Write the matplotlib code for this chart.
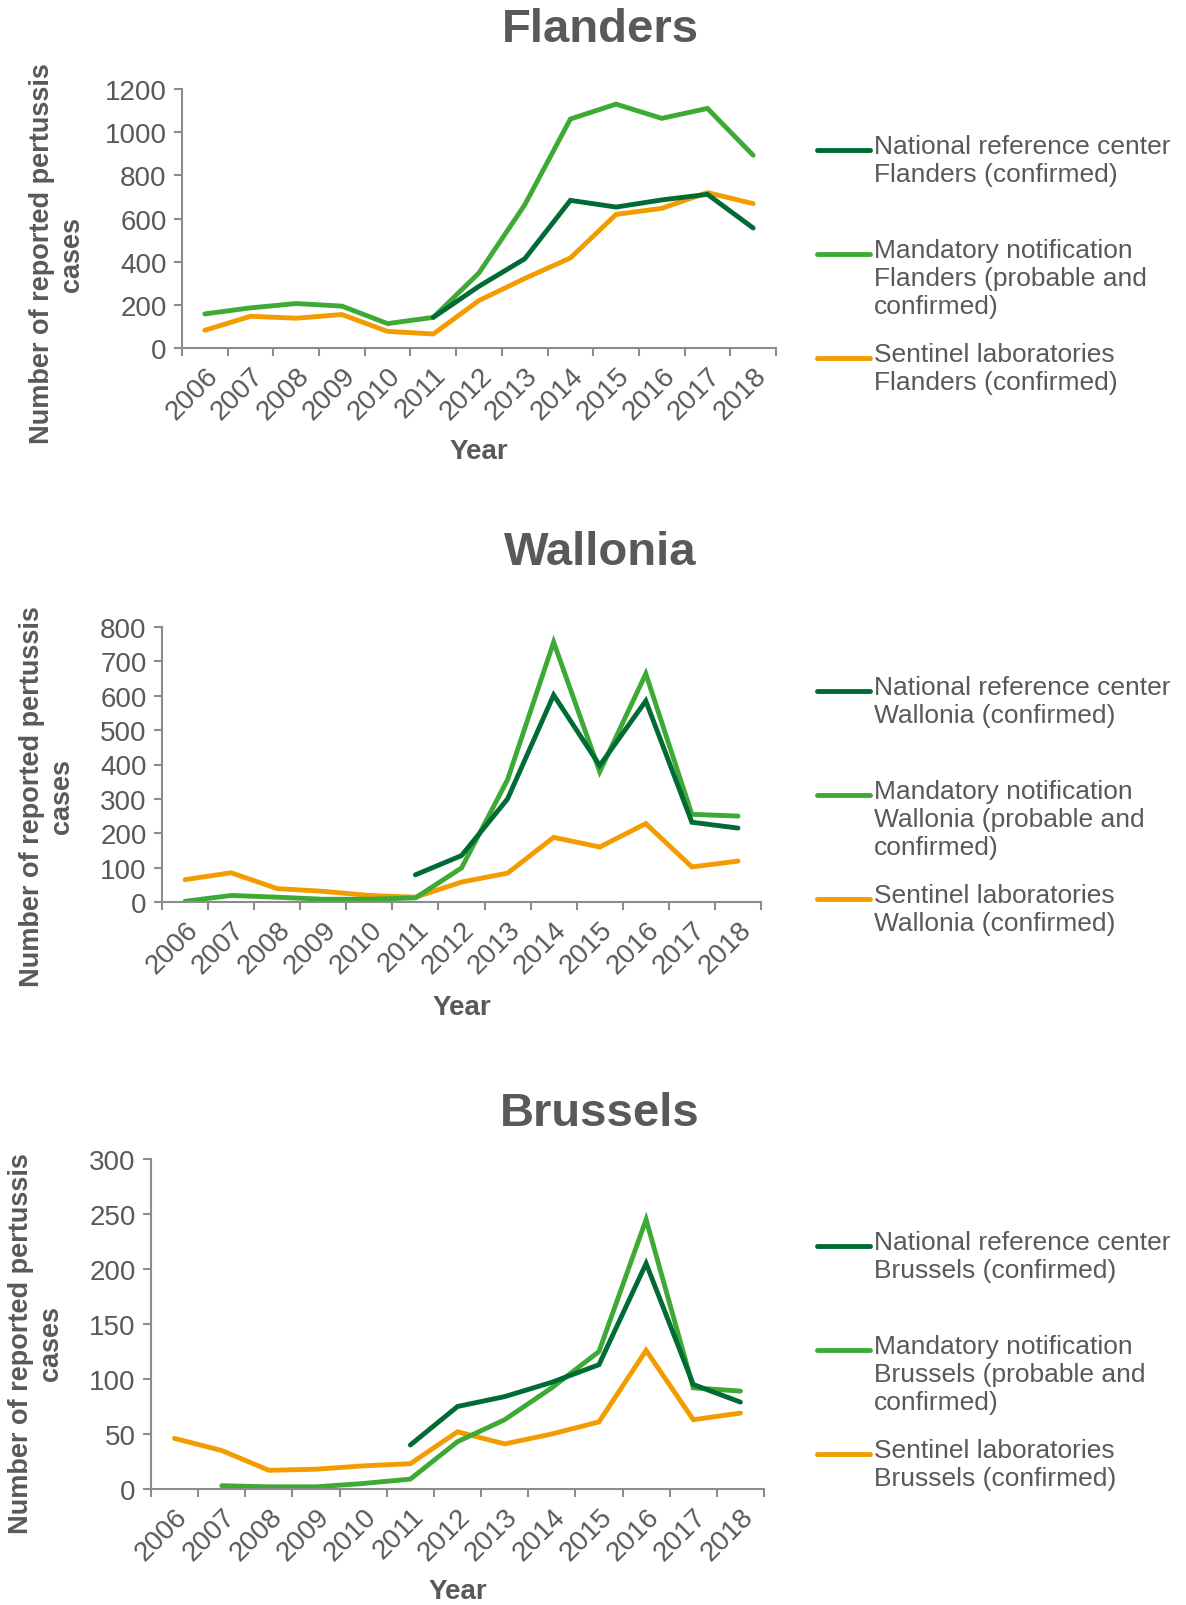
import numpy as np
import matplotlib
matplotlib.use("Agg")
import matplotlib.pyplot as plt
from matplotlib.lines import Line2D

plt.rcParams['font.family'] = ['Liberation Sans', 'DejaVu Sans']

years = [str(y) for y in range(2006, 2019)]
nan = np.nan

# Flanders
fl_nrc = [nan, nan, nan, nan, nan, 142, 286, 413, 684, 653, 686, 712, 556]
fl_mand = [158, 186, 206, 194, 113, 142, 348, 663, 1061, 1130, 1064, 1110, 893]
fl_sent = [82, 147, 138, 155, 77, 65, 220, 322, 417, 619, 647, 720, 669]

# Wallonia
wa_nrc = [nan, nan, nan, nan, nan, 79, 135, 300, 602, 397, 585, 232, 215]
wa_mand = [2, 19, 14, 8, 8, 12, 99, 356, 756, 379, 664, 255, 250]
wa_sent = [65, 85, 39, 31, 19, 14, 58, 84, 188, 160, 228, 102, 119]

# Brussels
br_nrc = [nan, nan, nan, nan, nan, 40, 75, 84, 97, 113, 205, 95, 79]
br_mand = [nan, 3, 2, 2, 5, 9, 43, 63, 92, 125, 245, 92, 89]
br_sent = [46, 35, 17, 18, 21, 23, 52, 41, 50, 61, 126, 63, 69]

C_NRC = '#006B35'
C_MAND = '#3DAA35'
C_SENT = '#F39C00'
TXT = '#595959'
AX = '#8C8C8C'

W, H = 1186, 1606
fig = plt.figure(figsize=(W / 100, H / 100), dpi=100)


def px_axes(left, right, top, bottom):
    return fig.add_axes([left / W, 1 - bottom / H, (right - left) / W, (bottom - top) / H])


def panel(region, nrc, mand, sent, box, ymax, ystep, title_y, year_y, ylab_xy, leg_y):
    ax = px_axes(*box)
    x = np.arange(len(years))
    for vals, c in ((sent, C_SENT), (mand, C_MAND), (nrc, C_NRC)):
        ax.plot(x, vals, color=c, lw=3.5, solid_capstyle='round', solid_joinstyle='miter')
    ax.set_xlim(-0.5, len(years) - 0.5)
    ax.set_ylim(0, ymax)
    ax.set_yticks(np.arange(0, ymax + 1, ystep))
    ax.set_xticks(x)
    ax.set_xticklabels(years, rotation=45, ha='right', rotation_mode='anchor')
    ax.set_xticks(np.arange(-0.5, len(years)), minor=True)
    ax.tick_params(axis='x', which='major', length=0, pad=10, labelsize=20, labelcolor=TXT)
    ax.tick_params(axis='x', which='minor', length=6, width=1.5, color=AX)
    ax.tick_params(axis='y', length=6, width=1.5, color=AX, labelsize=20, labelcolor=TXT, pad=5)
    for s in ('top', 'right'):
        ax.spines[s].set_visible(False)
    for s in ('left', 'bottom'):
        ax.spines[s].set_color(AX)
        ax.spines[s].set_linewidth(1.5)

    cx = (box[0] + box[1]) / 2
    fig.text(600 / W, 1 - title_y / H, region, ha='center', va='center',
             fontsize=34, fontweight='bold', color=TXT)
    fig.text(cx / W, 1 - year_y / H, 'Year', ha='center', va='center',
             fontsize=20, fontweight='bold', color=TXT)
    fig.text(ylab_xy[0] / W, 1 - ylab_xy[1] / H,
             'Number of reported pertussis\ncases', ha='center', va='center',
             rotation=90, fontsize=19.5, fontweight='bold', color=TXT, linespacing=1.2)

    labels = [f'National reference center\n{region} (confirmed)',
              f'Mandatory notification\n{region} (probable and\nconfirmed)',
              f'Sentinel laboratories\n{region} (confirmed)']
    for i, (lab, c) in enumerate(zip(labels, (C_NRC, C_MAND, C_SENT))):
        y = leg_y + i * 104
        fig.add_artist(Line2D([817 / W, 870 / W], [1 - y / H, 1 - y / H], color=c,
                              lw=3.5, solid_capstyle='round'))
        fig.text(874 / W, 1 - (y - 16) / H, lab, ha='left', va='top',
                 fontsize=19, color=TXT, linespacing=1.2)
    return ax


panel('Flanders', fl_nrc, fl_mand, fl_sent, (182, 776, 90, 349), 1200, 200,
      30, 452, (57, 254), 151)
panel('Wallonia', wa_nrc, wa_mand, wa_sent, (162, 761, 628, 903), 800, 100,
      553, 1008, (47, 797), 692)
panel('Brussels', br_nrc, br_mand, br_sent, (151, 764, 1160, 1490), 300, 50,
      1114, 1592, (36, 1344), 1247)

fig.savefig('out.png', dpi=100, facecolor='white')
